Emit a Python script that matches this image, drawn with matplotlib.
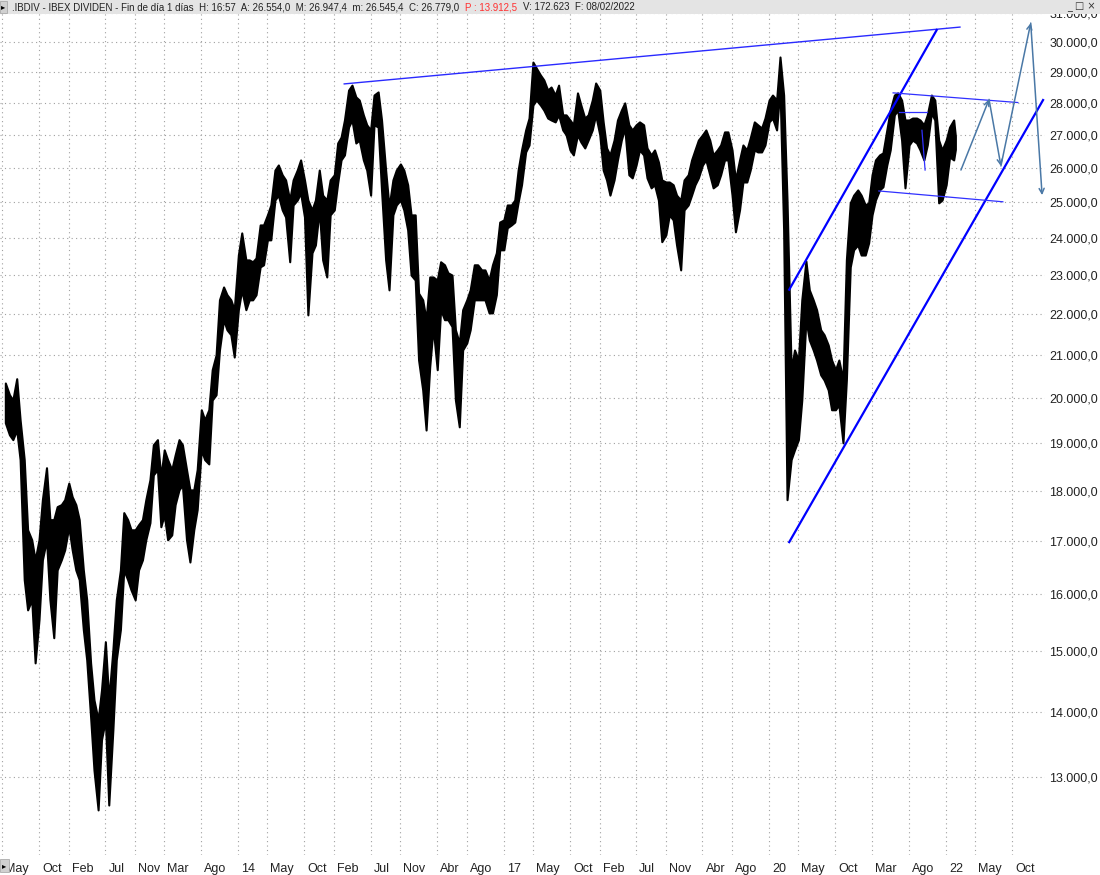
import pandas as pd
import matplotlib
matplotlib.use('Agg')
import matplotlib.pyplot as plt
import matplotlib.dates as mdates
import matplotlib.transforms as mtransforms
from matplotlib.patches import Rectangle
from matplotlib.ticker import FixedLocator, NullLocator, FuncFormatter

plt.rcParams['font.family'] = ['Liberation Sans', 'DejaVu Sans']

#-----------Data (semi-monthly high / low)--------------------------------

dates = list(pd.date_range('2011-05-15', '2022-02-01', freq='SMS')) + [pd.Timestamp('2022-02-08')]

high = [
    20350, 20080, 19960, 20450, 19515, 18650, 17220, 17025, 16640, 17025, 17820, 18480, 17420, 17420, 17680,  # 2011
    17720, 17820, 18160, 17880, 17720, 17420, 16450, 15900, 14800, 14190, 13870, 14350,
    15160, 14190, 15020, 15900, 16450, 17560, 17420, 17220, 17220, 17320, 17420, 17820,  # 2012
    18230, 18970, 19080, 18290, 18860, 18650, 18440, 18750, 19080, 18970, 18440, 18020,
    18020, 18440, 19740, 19515, 19740, 20660, 21010, 22370, 22700, 22500, 22370, 22120,  # 2013
    23540, 24140, 23410, 23410, 23360, 23460, 24360, 24360, 24640, 24920, 25930, 26080,
    25790, 25640, 25060, 25640, 25930, 26230, 25640, 25060, 24780, 25060, 25930, 25200,  # 2014
    25060, 25640, 25790, 26740, 26920, 27450, 28400, 28560, 28180, 28080, 27610, 27300,
    27140, 28240, 28340, 27450, 25930, 24860, 25640, 25930, 26110, 25930, 25500, 24640,  # 2015
    24640, 22540, 22370, 21870, 22960, 22960, 22880, 23360, 23280, 23070, 23010, 21620,
    21300, 22120, 22370, 22625, 23280, 23280, 23145, 23145, 22880, 23280, 23600, 24440,  # 2016
    24500, 24920, 24920, 25060, 25930, 26530, 27140, 27510, 29320, 29120, 28890, 28730,
    28400, 28500, 28240, 28560, 27610, 27610, 27450, 27300, 28310, 27920, 27510, 27610,  # 2017
    28080, 28630, 28400, 27390, 26590, 26380, 26830, 27450, 27760, 27990, 27300, 27140,
    27300, 27390, 27300, 26590, 26380, 26530, 26170, 25640, 25580, 25580, 25500, 25200,  # 2018
    25060, 25640, 25790, 26230, 26530, 26830, 26990, 27140, 26830, 26380, 26530, 26680,
    27080, 27080, 26530, 25640, 26230, 26680, 26530, 26890, 27390, 27300, 27200, 27510,  # 2019
    28080, 28240, 28080, 29490, 28240, 25060, 20660, 21130, 20890, 22370, 23380, 22625,
    22370, 22120, 21620, 21500, 21250, 20890, 20660, 20890, 20420, 23410, 24980, 25200,  # 2020
    25350, 25200, 24920, 24980, 25790, 26230, 26380, 26440, 27140, 27760, 28240, 28310,
    28080, 27450, 27450, 27510, 27510, 27450, 27300, 27610, 28240, 28080, 26830, 26530,  # 2021
    26830, 27230, 27450, 26947,  # 2022
]

low = [
    19450, 19185, 19080, 19290, 18650, 16270, 15720, 15900, 14800, 15545, 16640, 17025, 15900, 15230, 16450,  # 2011
    16640, 16830, 17280, 16830, 16450, 16270, 15370, 14850, 13920, 13100, 12520, 13560,
    13870, 12590, 13715, 14850, 15370, 16450, 16270, 16080, 15900, 16450, 16640, 17025,  # 2012
    17360, 18330, 18440, 17280, 17520, 17025, 17120, 17720, 18020, 18120, 17025, 16600,
    17220, 17620, 18860, 18650, 18560, 19960, 20080, 21130, 21870, 21620, 21500, 20960,  # 2013
    22120, 22625, 22120, 22370, 22370, 22500, 23225, 23280, 23950, 23950, 25060, 25200,
    24780, 24580, 23360, 24920, 25060, 25260, 24580, 21990, 23600, 23810, 24780, 23410,  # 2014
    22960, 24640, 24780, 25550, 26230, 26380, 27230, 27450, 26740, 26830, 26230, 25930,
    25200, 27300, 27230, 25350, 23410, 22625, 24640, 24920, 25060, 24780, 24220, 23010,  # 2015
    22880, 20890, 20190, 19290, 20730, 21680, 20660, 22120, 21870, 21870, 21700, 19960,
    19360, 21130, 21300, 21620, 22370, 22370, 22370, 22370, 22040, 22040, 22500, 23680,  # 2016
    23680, 24280, 24360, 24440, 25000, 25500, 26470, 26680, 27920, 28080, 27920, 27760,
    27510, 27450, 27390, 27610, 27140, 26990, 26530, 26380, 26990, 26770, 26590, 26830,  # 2017
    27140, 27610, 26990, 25930, 25640, 25200, 25640, 26230, 26830, 27200, 25790, 25700,
    26080, 26530, 26380, 25700, 25410, 25500, 25060, 23900, 24090, 24640, 24500, 23810,  # 2018
    23145, 24780, 24920, 25200, 25500, 25700, 26080, 26230, 25790, 25410, 25500, 25790,
    26230, 26230, 25200, 24170, 24780, 25580, 25580, 25930, 26530, 26470, 26470, 26680,  # 2019
    27390, 27510, 27140, 28470, 24220, 17820, 18650, 18860, 19080, 19960, 21870, 21370,
    21130, 20890, 20540, 20420, 20190, 19740, 19740, 19850, 19010, 20420, 23220, 23680,  # 2020
    23810, 23540, 23540, 23870, 24640, 25060, 25350, 25440, 26080, 26530, 27610, 27760,
    26830, 25410, 26680, 26830, 26740, 26530, 26230, 26680, 27670, 27450, 24980, 25060,  # 2021
    25500, 26320, 26230, 26545,  # 2022
]

tick_dates = ['2011-05-01', '2011-10-01', '2012-02-01', '2012-07-01', '2012-11-01', '2013-03-01',
              '2013-08-01', '2014-01-01', '2014-05-01', '2014-10-01', '2015-02-01', '2015-07-01',
              '2015-11-01', '2016-04-01', '2016-08-01', '2017-01-01', '2017-05-01', '2017-10-01',
              '2018-02-01', '2018-07-01', '2018-11-01', '2019-04-01', '2019-08-01', '2020-01-01',
              '2020-05-01', '2020-10-01', '2021-03-01', '2021-08-01', '2022-01-01', '2022-05-01',
              '2022-10-01']
tick_labels = ['May', 'Oct', 'Feb', 'Jul', 'Nov', 'Mar', 'Ago', '14', 'May', 'Oct', 'Feb', 'Jul',
               'Nov', 'Abr', 'Ago', '17', 'May', 'Oct', 'Feb', 'Jul', 'Nov', 'Abr', 'Ago', '20',
               'May', 'Oct', 'Mar', 'Ago', '22', 'May', 'Oct']
price_levels = list(range(13000, 31001, 1000))

#-----------Drawn lines-------------

resistance_dates = ['2015-03-14', '2022-02-27']
resistance_vals = [28600, 30510]
channel_top_dates = ['2020-03-24', '2021-11-23']
channel_top_vals = [22630, 30410]
channel_bot_dates = ['2020-03-24', '2023-02-05']
channel_bot_vals = [16980, 28080]
range_top_dates = ['2021-05-27', '2022-10-24']
range_top_vals = [28310, 28000]
range_bot_dates = ['2021-03-29', '2022-08-23']
range_bot_vals = [25320, 25010]
neck_dates = ['2021-06-20', '2021-10-15']
neck_vals = [27690, 27690]
slope_dates = ['2021-09-23', '2021-10-06']
slope_vals = [27130, 25930]
path_dates = ['2022-03-03', '2022-06-27', '2022-08-15', '2022-12-16', '2023-02-01']
path_vals = [25930, 28100, 26050, 30650, 25200]

title_left = '.IBDIV - IBEX DIVIDEN - Fin de día 1 días  H: 16:57  A: 26.554,0  M: 26.947,4  m: 26.545,4  C: 26.779,0'
title_red = 'P : 13.912,5'
title_right = 'V: 172.623  F: 08/02/2022'


def num(d):
    return mdates.date2num(pd.to_datetime(d))


#-----------Figure-------------

W, H = 1100, 875
fig = plt.figure(figsize=(W / 100, H / 100), dpi=100, facecolor='white')
ax = fig.add_axes([0, 20 / H, 1045 / W, 855 / H])
ax.set_yscale('log')
ax.set_xlim(num('2011-04-23'), num('2023-02-13'))
ax.set_ylim(11894, 31465)
for s in ax.spines.values():
    s.set_visible(False)

#-----------Grid and ticks-------------

ax.xaxis.set_major_locator(FixedLocator([num(d) for d in tick_dates]))
ax.xaxis.set_minor_locator(NullLocator())
ax.tick_params(axis='x', length=0, labelbottom=False)
ax.yaxis.tick_right()
ax.yaxis.set_major_locator(FixedLocator(price_levels))
ax.yaxis.set_minor_locator(NullLocator())
ax.yaxis.set_major_formatter(FuncFormatter(
    lambda v, p: f'{v:,.1f}'.replace(',', 'X').replace('.', ',').replace('X', '.')))
ax.tick_params(axis='y', length=0, pad=3, labelsize=9, labelcolor='#222222')
ax.grid(True, color='#a0a0a0', linestyle=(0, (1, 3)), linewidth=0.8)
ax.set_axisbelow(True)

lab_trans = mtransforms.blended_transform_factory(ax.transData, ax.transAxes) + \
    mtransforms.ScaledTranslation(3 / 100, -8 / 100, fig.dpi_scale_trans)
for d, lab in zip(tick_dates, tick_labels):
    ax.text(num(d), 0, lab, transform=lab_trans, ha='left', va='top', fontsize=9,
            color='#222222', clip_on=False)

#-----------Price band-------------

x = [num(d) for d in dates]
ax.fill_between(x, low, high, color='black', linewidth=1.5, zorder=3)

#-----------Trend lines-------------

ax.plot([num(d) for d in resistance_dates], resistance_vals, color='#2a2aff', lw=1, zorder=4)
ax.plot([num(d) for d in channel_top_dates], channel_top_vals, color='#0000ff', lw=1.6, zorder=4)
ax.plot([num(d) for d in channel_bot_dates], channel_bot_vals, color='#0000ff', lw=1.6, zorder=4)
ax.plot([num(d) for d in range_top_dates], range_top_vals, color='#3030ff', lw=0.9, zorder=4)
ax.plot([num(d) for d in range_bot_dates], range_bot_vals, color='#3030ff', lw=0.9, zorder=4)
ax.plot([num(d) for d in neck_dates], neck_vals, color='#3030ff', lw=0.9, zorder=4)
ax.plot([num(d) for d in slope_dates], slope_vals, color='#3030ff', lw=0.9, zorder=4)

for i in range(len(path_dates) - 1):
    ax.annotate('', xy=(num(path_dates[i + 1]), path_vals[i + 1]),
                xytext=(num(path_dates[i]), path_vals[i]),
                arrowprops=dict(arrowstyle='->', color='#4a78a6', lw=1.1,
                                shrinkA=0, shrinkB=0, mutation_scale=9),
                zorder=4, annotation_clip=False)

#-----------Window chrome-------------

fig.patches.append(Rectangle((0, 1 - 14 / H), 1, 14 / H, transform=fig.transFigure,
                             facecolor='#e4e4e4', edgecolor='none', zorder=10))
fig.patches.append(Rectangle((0, 1 - 13 / H), 7 / W, 12 / H, transform=fig.transFigure,
                             facecolor='#d0d0d0', edgecolor='#a0a0a0', lw=0.5, zorder=11))
fig.patches.append(Rectangle((0, 3 / H), 9 / W, 13 / H, transform=fig.transFigure,
                             facecolor='#d0d0d0', edgecolor='#a0a0a0', lw=0.5, zorder=11))
fig.text(1 / W, 1 - 7 / H, '▸', fontsize=6, va='center', ha='left', zorder=12,
         family='DejaVu Sans')
fig.text(2 / W, 9.5 / H, '▸', fontsize=6, va='center', ha='left', zorder=12,
         family='DejaVu Sans')
fig.text(1096 / W, 1 - 7 / H, '_ □ ×', fontsize=7, va='center', ha='right', zorder=12,
         family='DejaVu Sans', color='#333333')

renderer = fig.canvas.get_renderer()
t1 = fig.text(12 / W, 1 - 7.5 / H, title_left, fontsize=7, va='center', ha='left',
              zorder=12, color='#222222')
x1 = t1.get_window_extent(renderer).x1 + 6
t2 = fig.text(x1 / W, 1 - 7.5 / H, title_red, fontsize=7, va='center', ha='left',
              zorder=12, color='#ff3030')
x2 = t2.get_window_extent(renderer).x1 + 6
fig.text(x2 / W, 1 - 7.5 / H, title_right, fontsize=7, va='center', ha='left',
         zorder=12, color='#222222')

fig.savefig('out.png', dpi=100, facecolor='white')
